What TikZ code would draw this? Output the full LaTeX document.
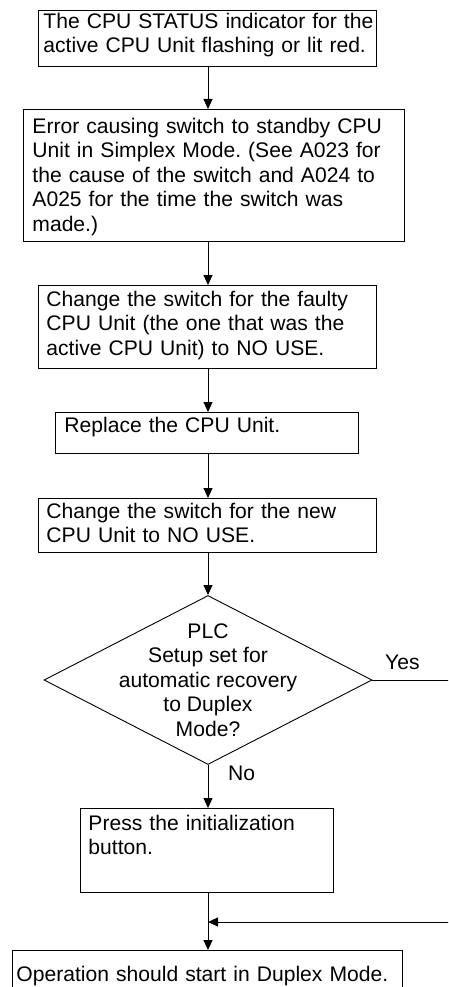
\documentclass[tikz,border=0pt]{standalone}
\usepackage{fontspec}
\setmainfont{Liberation Sans}
\usetikzlibrary{arrows.meta,shapes.geometric}
\frenchspacing
% lines of a box, kept as written (no extra wrapping)
\newcommand\steplines[1]{\begin{tabular}[t]{@{}l@{}}#1\end{tabular}}

\begin{document}
\begin{tikzpicture}[x=1pt,y=-1pt,
  font=\fontsize{21.1}{24.5}\selectfont,
  stepbox/.style={draw,anchor=north west,align=left,inner ysep=0pt,line width=0.9pt},
  decision/.style={draw,diamond,minimum width=328pt,minimum height=169pt,
                   inner sep=0pt,line width=0.9pt},
  flow/.style={-{Triangle[length=10pt,width=9pt]},line width=0.9pt}
]
\useasboundingbox (0,0) rectangle (448,987);
\clip (0,0) rectangle (448,987);

\node[stepbox,text width=328pt,inner xsep=5pt,text height=18pt,text depth=38pt] (b1) at (38,10)
  {\steplines{The CPU STATUS indicator for the\\active CPU Unit flashing or lit red.}};
\node[stepbox,text width=363pt,inner xsep=9pt,text height=24pt,text depth=108pt] (b2) at (23,109)
  {\steplines{Error causing switch to standby CPU\\Unit in Simplex Mode. (See A023 for\\the cause of the switch and A024 to\\A025 for the time the switch was\\made.)}};
\node[stepbox,text width=322pt,inner xsep=8pt,text height=21pt,text depth=62pt] (b3) at (38,285)
  {\steplines{Change the switch for the faulty\\CPU Unit (the one that was the\\active CPU Unit) to NO USE.}};
\node[stepbox,text width=285pt,inner xsep=9pt,text height=20pt,text depth=21pt] (b4) at (55,412)
  {\steplines{Replace the CPU Unit.}};
\node[stepbox,text width=322pt,inner xsep=8pt,text height=20pt,text depth=34pt] (b5) at (38,498)
  {\steplines{Change the switch for the new\\CPU Unit to NO USE.}};
\node[decision,label={[align=center]center:{PLC\\Setup set for\\automatic recovery\\to Duplex\\Mode?}}] (dec) at (208,680) {};
\node[stepbox,text width=237pt,inner xsep=8pt,text height=22pt,text depth=62pt] (b6) at (80,808)
  {\steplines{Press the initialization\\button.}};
\node[stepbox,text width=382pt,inner xsep=4pt,text height=31pt,text depth=24pt] (b7) at (12,950)
  {\steplines{Operation should start in Duplex Mode.}};

% Branch labels
\node[anchor=base west,inner sep=0pt] (yes) at (385,669) {Yes};
\node[anchor=base west,inner sep=0pt] (no) at (228,780) {No};

% Main flow
\foreach \a/\b in {b1/b2,b2/b3,b3/b4,b4/b5,b5/dec,dec/b6,b6/b7}
  \draw[flow] (\a.south -| dec) -- (\b.north -| dec);

% Yes branch back to the main line
\coordinate (merge) at (208,922);
\draw[flow] (dec.east) -- ++(90,0) |- (merge);
\end{tikzpicture}
\end{document}
